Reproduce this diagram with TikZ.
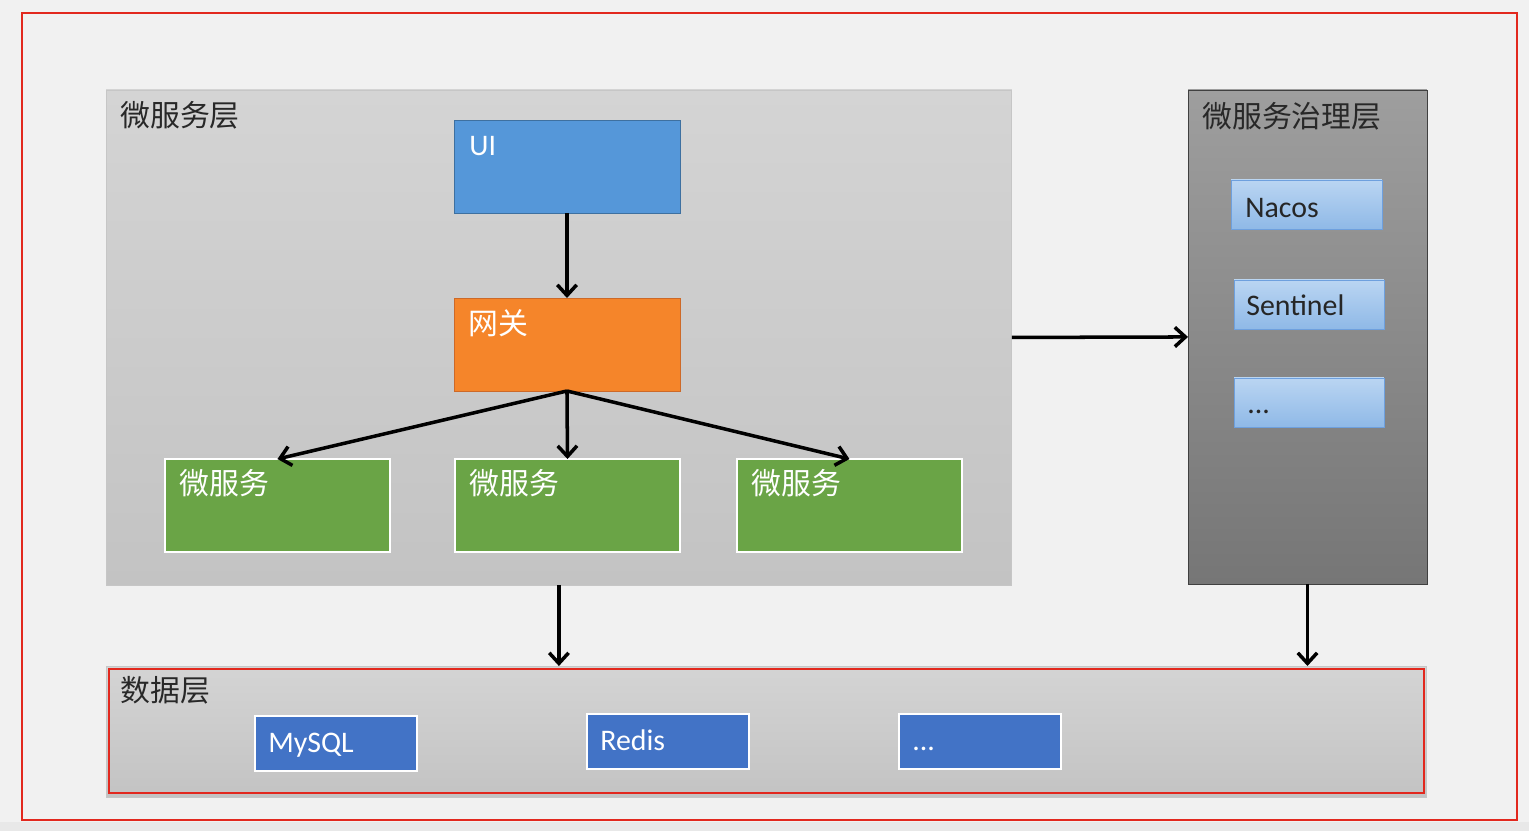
\documentclass[tikz,border=0pt]{standalone}
\usepackage{fontspec}
\setmainfont{Carlito}
\newfontfamily\cjk{Noto Sans CJK SC}
\usepackage{xcolor}
\usetikzlibrary{arrows.meta}

\definecolor{bgcol}{RGB}{241,241,241}
\definecolor{framered}{RGB}{226,40,30}
\definecolor{layertop}{RGB}{212,212,212}
\definecolor{layerbot}{RGB}{195,195,195}
\definecolor{govtop}{RGB}{158,158,158}
\definecolor{govbot}{RGB}{118,118,118}
\definecolor{uiblue}{RGB}{85,151,217}
\definecolor{uiedge}{RGB}{62,112,160}
\definecolor{gworange}{RGB}{245,133,42}
\definecolor{gwedge}{RGB}{205,105,40}
\definecolor{msgreen}{RGB}{106,164,70}
\definecolor{lbtop}{RGB}{186,213,242}
\definecolor{lbbot}{RGB}{143,185,231}
\definecolor{lbedge}{RGB}{110,160,222}
\definecolor{dbblue}{RGB}{66,115,198}
\definecolor{titlecol}{RGB}{40,40,40}

\tikzset{
  box/.style={anchor=north west, outer sep=0pt, inner sep=0pt},
  cjktxt/.style={font=\cjk\fontsize{17}{20}\selectfont, anchor=west, inner sep=0pt},
  lattxt/.style={font=\fontsize{17}{20}\selectfont, anchor=base west, inner sep=0pt},
  arr/.style={line width=2pt, -{Straight Barb[length=6pt,width=11pt]}}
}

\begin{document}
\begin{tikzpicture}[x=0.02cm, y=-0.02cm]
    \fill[bgcol] (0,0) rectangle (1529,831);
    \fill[gray!18] (0,822) rectangle (1529,831);
    \draw[framered, line width=1pt] (22,13) rectangle (1517,820);

    % layers
    \node[box, draw=gray!45, top color=layertop, bottom color=layerbot,
      minimum width=18.12cm, minimum height=9.9cm] (svc) at (106,90) {};
    \node[box, draw=black!75, top color=govtop, bottom color=govbot,
      minimum width=4.78cm, minimum height=9.88cm] (gov) at (1188,90) {};
    \node[box, draw=gray!45, top color=layertop, bottom color=layerbot,
      minimum width=26.42cm, minimum height=2.62cm] (data) at (106,666) {};
    \draw[framered, line width=1pt] ([shift={(3,3)}]data.north west) rectangle ([shift={(-3,-4)}]data.south east);

    \node[cjktxt, text=titlecol] (svc-t) at (120,115) {微服务层};
    \node[cjktxt, text=titlecol] (gov-t) at (1202,116) {微服务治理层};
    \node[cjktxt, text=titlecol] (data-t) at (120,690) {数据层};

    % micro services
    \node[box, draw=uiedge, fill=uiblue, minimum width=4.52cm, minimum height=1.86cm] (ui) at (454,120) {};
    \node[box, draw=gwedge, fill=gworange, minimum width=4.52cm, minimum height=1.86cm] (gw) at (454,298) {};
    \node[box, draw=white, line width=1pt, fill=msgreen, minimum width=4.5cm, minimum height=1.86cm] (ms1) at (165,459) {};
    \node[box, draw=white, line width=1pt, fill=msgreen, minimum width=4.5cm, minimum height=1.86cm] (ms2) at (455,459) {};
    \node[box, draw=white, line width=1pt, fill=msgreen, minimum width=4.5cm, minimum height=1.86cm] (ms3) at (737,459) {};

    \node[lattxt, text=white] (ui-t) at (469,156) {UI};
    \node[cjktxt, text=white] (gw-t) at (468,323) {网关};
    \node[cjktxt, text=white] (ms1-t) at (179,483) {微服务};
    \node[cjktxt, text=white] (ms2-t) at (469,483) {微服务};
    \node[cjktxt, text=white] (ms3-t) at (751,483) {微服务};

    % governance
    \node[box, draw=lbedge, top color=lbtop, bottom color=lbbot, minimum width=3.02cm, minimum height=0.98cm] (nacos) at (1231,180) {};
    \node[box, draw=lbedge, top color=lbtop, bottom color=lbbot, minimum width=3.0cm, minimum height=0.98cm] (sentinel) at (1234,280) {};
    \node[box, draw=lbedge, top color=lbtop, bottom color=lbbot, minimum width=3.0cm, minimum height=0.98cm] (govmore) at (1234,378) {};
    \node[lattxt, text=black!85] (nacos-t) at (1245,218) {Nacos};
    \node[lattxt, text=black!85] (sentinel-t) at (1246,316) {Sentinel};
    \node[lattxt, text=black!85] (govmore-t) at (1247,414) {...};

    % data
    \node[box, draw=white, line width=1pt, fill=dbblue, minimum width=3.24cm, minimum height=1.1cm] (mysql) at (255,716) {};
    \node[box, draw=white, line width=1pt, fill=dbblue, minimum width=3.24cm, minimum height=1.1cm] (redis) at (587,714) {};
    \node[box, draw=white, line width=1pt, fill=dbblue, minimum width=3.24cm, minimum height=1.1cm] (dbmore) at (899,714) {};
    \node[lattxt, text=white] (mysql-t) at (268,752) {MySQL};
    \node[lattxt, text=white] (redis-t) at (600,750) {Redis};
    \node[lattxt, text=white] (dbmore-t) at (912,750) {...};

    % arrows
    \draw[arr] (ui.south) -- (gw.north);
    \draw[arr] (gw.south) -- (ms1.north);
    \draw[arr] (gw.south) -- (ms2.north);
    \draw[arr] (gw.south) -- (ms3.north);
    \draw[arr] (svc.east) -- (gov.west);
    \draw[arr] (svc.south) -- (svc.south |- data.north);
    \draw[arr] (gov.south) -- (gov.south |- data.north);
\end{tikzpicture}
\end{document}
